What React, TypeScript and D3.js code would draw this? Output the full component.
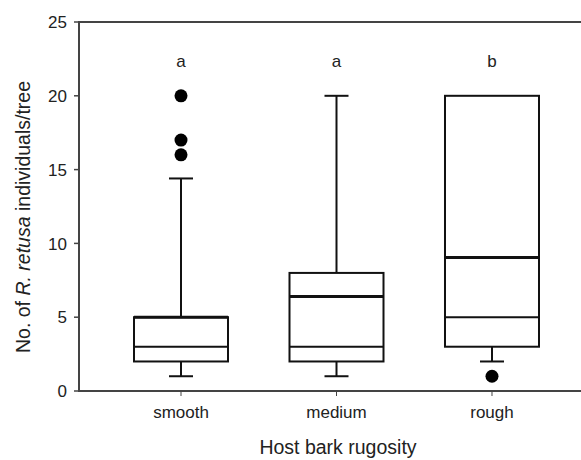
import React from "react";
import * as d3 from "d3";

const categories = ["smooth", "medium", "rough"];
const whiskerLow = [1, 1, 2];
const q1 = [2, 2, 3];
const median = [3, 3, 5];
const q3 = [5, 8, 20];
const whiskerHigh = [14.4, 20, 20];
const means = [5, 6.4, 9.05];
const outliers = [[20, 17, 16], [], [1]];
const letters = ["a", "a", "b"];
const yTicks = [0, 5, 10, 15, 20, 25];

const W = 581;
const H = 460;
const left = 79;
const top = 22;
const bottom = 391;
const right = 594;
const font = "Arial, 'Liberation Sans', sans-serif";

export default function App() {
  const x = d3.scalePoint<string>().domain(categories).range([left, right]).padding(0.656);
  const y = d3.scaleLinear().domain([0, 25]).range([bottom, top]);
  const boxW = 94;
  const capW = 24;
  const ink = "#111";
  const axisInk = "#444";

  return (
    <svg
      width={W}
      height={H}
      style={{ position: "absolute", left: 0, top: 0, background: "#fff" }}
      fontFamily={font}
    >
      {/* frame */}
      <line x1={left} x2={W} y1={top} y2={top} stroke={axisInk} strokeWidth={2} />
      <line x1={left} x2={W} y1={bottom} y2={bottom} stroke={axisInk} strokeWidth={2} />
      <line x1={left} x2={left} y1={top - 1} y2={bottom + 1} stroke={axisInk} strokeWidth={2} />

      {/* y ticks */}
      {yTicks.map((t) => (
        <g key={t}>
          <line x1={left - 5} x2={left} y1={y(t)} y2={y(t)} stroke={axisInk} strokeWidth={1.5} />
          <text x={left - 12} y={y(t)} dy="0.36em" textAnchor="end" fontSize={17} fill="#222">
            {t}
          </text>
        </g>
      ))}

      {/* x ticks */}
      {categories.map((c) => (
        <g key={c}>
          <line x1={x(c)} x2={x(c)} y1={bottom} y2={bottom + 5} stroke={axisInk} strokeWidth={1} />
          <text x={x(c)} y={418} textAnchor="middle" fontSize={17} fill="#222">
            {c}
          </text>
        </g>
      ))}

      {/* boxes */}
      {categories.map((c, i) => {
        const cx = x(c) as number;
        return (
          <g key={c} stroke={ink} fill="none">
            {whiskerHigh[i] > q3[i] && (
              <>
                <line x1={cx} x2={cx} y1={y(q3[i])} y2={y(whiskerHigh[i])} strokeWidth={2} />
                <line x1={cx - capW / 2} x2={cx + capW / 2} y1={y(whiskerHigh[i])} y2={y(whiskerHigh[i])} strokeWidth={2} />
              </>
            )}
            <line x1={cx} x2={cx} y1={y(q1[i])} y2={y(whiskerLow[i])} strokeWidth={2} />
            <line x1={cx - capW / 2} x2={cx + capW / 2} y1={y(whiskerLow[i])} y2={y(whiskerLow[i])} strokeWidth={2} />
            <rect
              x={cx - boxW / 2}
              y={y(q3[i])}
              width={boxW}
              height={y(q1[i]) - y(q3[i])}
              strokeWidth={2}
              fill="#fff"
            />
            <line x1={cx - boxW / 2} x2={cx + boxW / 2} y1={y(median[i])} y2={y(median[i])} strokeWidth={2} />
            <line x1={cx - boxW / 2} x2={cx + boxW / 2} y1={y(means[i])} y2={y(means[i])} strokeWidth={3} />
            {outliers[i].map((o, j) => (
              <circle key={j} cx={cx} cy={y(o)} r={6.5} fill="#000" stroke="none" />
            ))}
            <text x={cx} y={67} textAnchor="middle" fontSize={17} fill="#222" stroke="none">
              {letters[i]}
            </text>
          </g>
        );
      })}

      {/* axis titles */}
      <text x={338} y={454} textAnchor="middle" fontSize={19.5} fill="#222">
        Host bark rugosity
      </text>
      <text transform="translate(30,217) rotate(-90)" textAnchor="middle" fontSize={19.5} fill="#222">
        No. of <tspan fontStyle="italic">R. retusa</tspan> individuals/tree
      </text>
    </svg>
  );
}
